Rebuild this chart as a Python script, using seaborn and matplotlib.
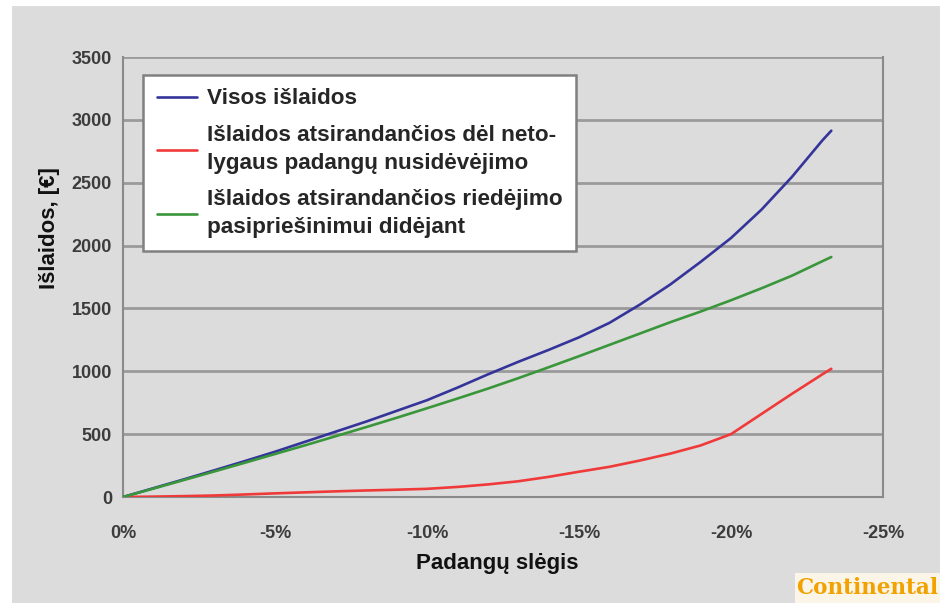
import matplotlib
matplotlib.use("Agg")
import matplotlib.pyplot as plt
import seaborn as sns
import pandas as pd
from matplotlib.patches import Rectangle

# ---- data ----
pressure = [0, -1, -2, -3, -4, -5, -6, -7, -8, -9, -10, -11, -12, -13, -14, -15,
            -16, -17, -18, -19, -20, -21, -22, -23, -23.3]
total_cost = [0, 70, 140, 212, 285, 360, 440, 520, 600, 685, 770, 870, 975, 1075,
              1170, 1270, 1385, 1530, 1690, 1870, 2060, 2285, 2545, 2835, 2914]
wear_cost = [0, 3, 7, 12, 20, 29, 37, 45, 52, 58, 65, 80, 100, 125, 160, 201,
             240, 290, 345, 410, 500, 660, 820, 975, 1020]
rolling_cost = [0, 67, 135, 203, 272, 342, 412, 484, 556, 630, 706, 783, 862, 945,
                1032, 1120, 1210, 1300, 1390, 1475, 1565, 1660, 1760, 1875, 1909]

series_names = ["Visos išlaidos",
                "Išlaidos atsirandančios dėl neto-\nlygaus padangų nusidėvėjimo",
                "Išlaidos atsirandančios riedėjimo\npasipriešinimui didėjant"]
series_colors = ["#34349a", "#f03a3a", "#3a963a"]
x_ticks = [0, -5, -10, -15, -20, -25]
x_tick_labels = ["0%", "-5%", "-10%", "-15%", "-20%", "-25%"]
y_ticks = [0, 500, 1000, 1500, 2000, 2500, 3000, 3500]

rows = []
for name, vals in zip(series_names, [total_cost, wear_cost, rolling_cost]):
    for x, v in zip(pressure, vals):
        rows.append({"slegis": x, "islaidos": v, "serija": name})
df = pd.DataFrame(rows)

sns.set_style("white")
plt.rcParams["font.family"] = ["Liberation Sans", "DejaVu Sans"]

BG = "#dcdcdc"
fig = plt.figure(figsize=(9.4, 6.03), dpi=100, facecolor="white")
fig.patches.append(Rectangle((12 / 940, 0), 1, 1 - 6 / 603, transform=fig.transFigure,
                             facecolor=BG, edgecolor="none", zorder=-10))
ax = fig.add_axes([123 / 940, 1 - 497 / 603, (883 - 123) / 940, (497 - 57) / 603])
ax.set_facecolor(BG)

sns.lineplot(data=df, x="slegis", y="islaidos", hue="serija", hue_order=series_names,
             palette=dict(zip(series_names, series_colors)), linewidth=1.9, ax=ax,
             sort=True, estimator=None, zorder=3)

ax.set_xlim(0, -25)
ax.set_ylim(0, 3500)
ax.set_xticks(x_ticks)
ax.set_xticklabels(x_tick_labels)
ax.set_yticks(y_ticks)
ax.yaxis.grid(True, color="#9a9a9a", linewidth=2.0, zorder=0)
ax.xaxis.grid(False)
ax.set_axisbelow(True)
for side in ["left", "bottom", "right"]:
    ax.spines[side].set_color("#8a8a8a")
    ax.spines[side].set_linewidth(1.5)
ax.spines["top"].set_visible(False)
ax.tick_params(axis="both", which="major", direction="out", length=6, width=1.2,
               color="#8a8a8a", labelsize=13, labelcolor="#3c3c3c", pad=2)
for lbl in ax.get_xticklabels() + ax.get_yticklabels():
    lbl.set_fontweight("bold")
ax.tick_params(axis="x", pad=14)

ax.set_xlabel("Padangų slėgis", fontsize=16, fontweight="bold", color="#111111", va="top")
ax.xaxis.set_label_coords((497 - 123) / 760, (497 - 553) / 440)
ax.set_ylabel("Išlaidos, [€]", fontsize=16, fontweight="bold", color="#111111")
ax.yaxis.set_label_coords((60 - 123) / 760, (497 - 228) / 440)

handles, labels = ax.get_legend_handles_labels()
leg = ax.legend(handles, labels, loc="upper left",
                bbox_to_anchor=(143 / 940, 1 - 75 / 603), bbox_transform=fig.transFigure,
                frameon=True, fancybox=False, framealpha=1, facecolor="white",
                edgecolor="#808080", prop={"weight": "bold", "size": 16.2},
                handlelength=1.8, handletextpad=0.45, labelspacing=0.7,
                borderpad=0.6, borderaxespad=0)
leg.get_frame().set_linewidth(1.8)
for t in leg.get_texts():
    t.set_linespacing(1.4)
leg.set_zorder(5)

fig.patches.append(Rectangle((795 / 940, 0), 145 / 940, 30 / 603, transform=fig.transFigure,
                             facecolor="#fbf5e8", edgecolor="none", zorder=-5))
fig.text(938 / 940, 4 / 603, "Continental", ha="right", va="bottom",
         fontsize=15.5, fontweight="bold", color="#f2a200",
         family=["DejaVu Serif", "DejaVu Sans"])

fig.savefig("out.png", dpi=100, facecolor=fig.get_facecolor())
